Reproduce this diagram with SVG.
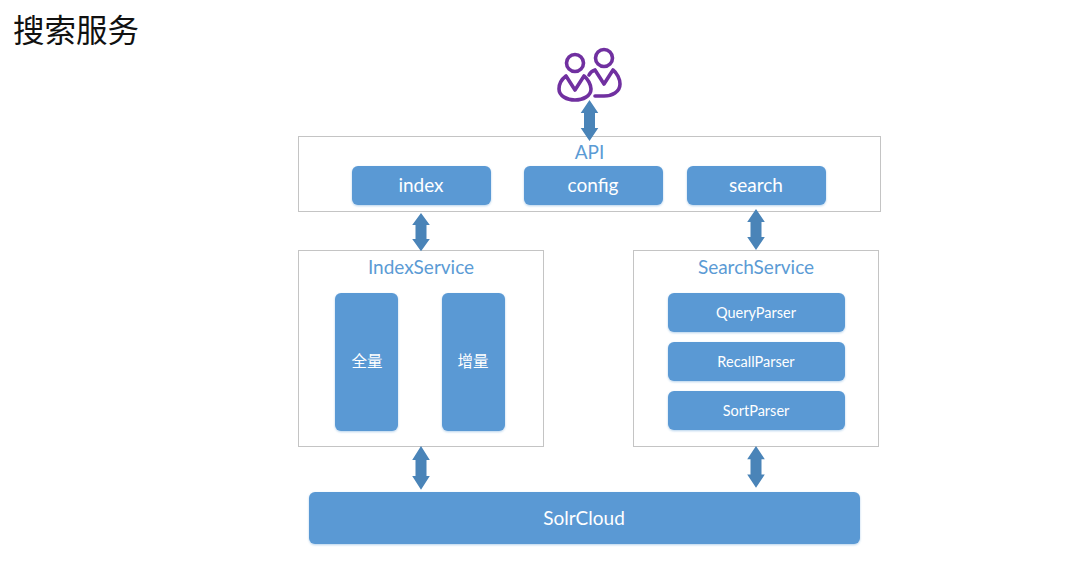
<svg xmlns="http://www.w3.org/2000/svg" width="1080" height="588" viewBox="0 0 1080 588">
<style>
text{font-family:"Lato","Noto Sans CJK SC",sans-serif;text-anchor:middle}
.p{fill:#fff;stroke:#c4c4c4;stroke-width:1}
.b{fill:#5a99d4;filter:url(#s)}
.w{fill:#fff}
.t{fill:#5b9bd5;font-size:19px}
.a{fill:#4a84b8}
.u{fill:none;stroke:#7030a0;stroke-width:3.6;stroke-linecap:round;stroke-linejoin:round}
</style>
<defs>
<filter id="s" x="-10%" y="-10%" width="120%" height="125%" color-interpolation-filters="sRGB"><feDropShadow dx="0" dy="1" stdDeviation="1" flood-color="#5b9bd5" flood-opacity="0.45"/></filter>
<path id="ar" class="a" d="M0 0L8.800 13H5.500V28H8.800L0 41L-8.800 28H-5.500V13H-8.800Z"/>
</defs>
<rect width="1080" height="588" fill="#fff"/>
<text id="title" x="76" y="42" style="font-family:'Noto Sans CJK SC',sans-serif;font-size:31.500px" fill="#111">搜索服务</text>

<g id="users">
<circle class="u" cx="604" cy="58" r="8.500"/>
<path class="u" d="M595 70L604 84L613 70C617 73 620 79 620 84C620 92 612 96 604 96H595M595 70C592 71 590 73 589 75"/>
<circle class="u" cx="575" cy="63" r="8.500"/>
<path class="u" d="M566 76L575 90L584 76C588 79 591 85 591 89C591 96 583 100 575 100C567 100 559 96 559 89C559 84 562 79 566 76Z"/>
</g>

<g id="api">
<rect class="p" x="298.500" y="136.500" width="582" height="75"/>
<text class="t" x="589.500" y="159">API</text>
</g>
<g id="index"><rect class="b" x="352" y="166" width="139" height="39" rx="6"/><text class="w" x="421" y="191.500" font-size="19">index</text></g>
<g id="config"><rect class="b" x="524" y="166" width="139" height="39" rx="6"/><text class="w" x="593" y="191.500" font-size="19">config</text></g>
<g id="search"><rect class="b" x="687" y="166" width="139" height="39" rx="6"/><text class="w" x="756" y="191.500" font-size="19">search</text></g>

<g id="indexservice">
<rect class="p" x="298.500" y="250.500" width="245" height="196"/>
<text class="t" x="421" y="273.500">IndexService</text>
</g>
<g id="full"><rect class="b" x="335" y="293" width="63" height="138" rx="6"/><text class="w" x="367" y="367" font-size="15.500">全量</text></g>
<g id="incr"><rect class="b" x="442" y="293" width="63" height="138" rx="6"/><text class="w" x="473" y="367" font-size="15.500">增量</text></g>

<g id="searchservice">
<rect class="p" x="633.500" y="250.500" width="245" height="196"/>
<text class="t" x="756" y="273.500">SearchService</text>
</g>
<g id="queryparser"><rect class="b" x="668" y="293" width="177" height="39" rx="6"/><text class="w" x="756" y="317.500" font-size="14.500">QueryParser</text></g>
<g id="recallparser"><rect class="b" x="668" y="342" width="177" height="39" rx="6"/><text class="w" x="756" y="366.500" font-size="14.500">RecallParser</text></g>
<g id="sortparser"><rect class="b" x="668" y="391" width="177" height="39" rx="6"/><text class="w" x="756" y="415.500" font-size="14.500">SortParser</text></g>

<g id="solrcloud"><rect class="b" x="309" y="492" width="551" height="52" rx="6"/><text class="w" x="584" y="525" font-size="19">SolrCloud</text></g>

<g id="connectors">
<use href="#ar" transform="translate(589.500 100)"/>
<use href="#ar" transform="translate(421 213) scale(1 .93)"/>
<use href="#ar" transform="translate(756 209) scale(1 1)"/>
<use href="#ar" transform="translate(421 446) scale(1 1.07)"/>
<use href="#ar" transform="translate(756 446) scale(1 1.02)"/>
</g>
</svg>
